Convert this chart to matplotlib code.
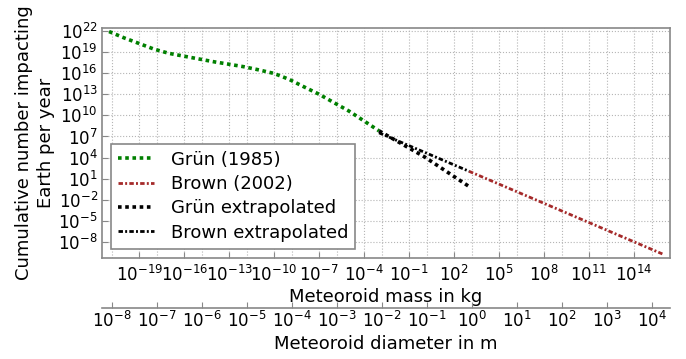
import numpy as np
import matplotlib
matplotlib.use('Agg')
import matplotlib.pyplot as plt
from matplotlib.ticker import FixedLocator, NullLocator, FuncFormatter

# data (mass in kg, cumulative number per year)
#=============================
grun_mass = [1e-21, 1e-20, 1e-19, 1e-18, 1e-17, 1e-16, 1e-15, 1e-14, 1e-13, 1e-12,
             1e-11, 1e-10, 1e-9, 1e-8, 1e-7, 1e-6, 1e-5, 1e-4, 1e-3]
grun_N = [7.9e21, 1.0e21, 1.6e20, 2.5e19, 6.3e18, 2.5e18, 1.0e18, 4.0e17, 1.8e17, 7.9e16,
          2.8e16, 8.9e15, 1.3e15, 1.1e14, 1.0e13, 6.3e11, 4.0e10, 1.6e9, 6.3e7]

grun_ext_mass = [1e-3, 1e0, 1e3]
grun_ext_N = [6.3e7, 1.4e4, 8.0e-1]

brown_mass = [1e3, 1e16]
brown_N = [1.15e2, 1.7e-10]

brown_ext_mass = [1e-3, 1e3]
brown_ext_N = [3.3e7, 1.15e2]

mass_ticks = [1e-19, 1e-16, 1e-13, 1e-10, 1e-7, 1e-4, 1e-1, 1e2, 1e5, 1e8, 1e11, 1e14]
diam_ticks = [1e-8, 1e-7, 1e-6, 1e-5, 1e-4, 1e-3, 1e-2, 1e-1, 1e0, 1e1, 1e2, 1e3, 1e4]
N_ticks = [1e-8, 1e-5, 1e-2, 1e1, 1e4, 1e7, 1e10, 1e13, 1e16, 1e19, 1e22]

rho = 3000.0  # kg/m^3, density used for diameter axis


def mass_to_diam(m):
    return (6.0 * np.asarray(m) / (np.pi * rho)) ** (1.0 / 3.0)


def pow_fmt(v, pos):
    return r'$10^{%d}$' % int(round(np.log10(v)))


spine_col = '#888888'
grid_col = '#b5b5b5'

fig = plt.figure(figsize=(6.86, 3.59), dpi=100)
ax = fig.add_axes([0.1487, 0.2813, 0.828, 0.6407])

dot = (0, (1, 1))
dashdot = (0, (1.6, 0.8, 0.7, 0.8))
ax.loglog(grun_mass, grun_N, color='green', ls=dot, lw=2.6, label='Grün (1985)')
ax.loglog(brown_mass, brown_N, color='#a52a2a', ls=dashdot, lw=2.0, label='Brown (2002)')
ax.loglog(grun_ext_mass, grun_ext_N, color='black', ls=dot, lw=2.6, label='Grün extrapolated')
ax.loglog(brown_ext_mass, brown_ext_N, color='black', ls=dashdot, lw=2.0, label='Brown extrapolated')

xlim = (10 ** -21.47, 10 ** 16.4)
ax.set_xlim(xlim)
ax.set_ylim(10 ** -10.25, 10 ** 22.4)

ax.xaxis.set_major_locator(FixedLocator(mass_ticks))
ax.xaxis.set_minor_locator(NullLocator())
ax.yaxis.set_major_locator(FixedLocator(N_ticks))
ax.yaxis.set_minor_locator(NullLocator())
ax.xaxis.set_major_formatter(FuncFormatter(pow_fmt))
ax.yaxis.set_major_formatter(FuncFormatter(pow_fmt))
ax.tick_params(direction='in', labelsize=12, length=4, color=spine_col, pad=3)
ax.tick_params(axis='x', pad=5)
ax.grid(True, color=grid_col, ls=':', lw=0.8)
for s in ax.spines.values():
    s.set_color(spine_col)
    s.set_linewidth(1.2)

ax.set_xlabel('Meteoroid mass in kg', fontsize=13, labelpad=2)
ax.set_ylabel('Cumulative number impacting\nEarth per year', fontsize=13, labelpad=2,
              linespacing=1.3)

# second x axis for diameter
#=============================
ax2 = ax.twiny()
ax2.set_xscale('log')
ax2.set_xlim(mass_to_diam(xlim))
ax2.xaxis.set_major_locator(FixedLocator(diam_ticks))
ax2.xaxis.set_minor_locator(NullLocator())
ax2.xaxis.set_major_formatter(FuncFormatter(pow_fmt))
ax2.xaxis.set_ticks_position('bottom')
ax2.xaxis.set_label_position('bottom')
ax2.spines['bottom'].set_position(('outward', 36))
ax2.spines['bottom'].set_color(spine_col)
ax2.spines['bottom'].set_linewidth(1.2)
for k in ['top', 'left', 'right']:
    ax2.spines[k].set_visible(False)
ax2.tick_params(direction='in', labelsize=12, length=4, color=spine_col, pad=2)
ax2.grid(True, axis='x', color=grid_col, ls=':', lw=0.8)
ax2.set_xlabel('Meteoroid diameter in m', fontsize=13, labelpad=3)

ax.set_zorder(ax2.get_zorder() + 1)
ax.patch.set_visible(False)

leg = ax.legend(loc='lower left', fontsize=13, fancybox=False, edgecolor=spine_col,
                framealpha=1, handlelength=2.0, labelspacing=0.35, borderaxespad=0.5,
                handletextpad=0.9)
leg.get_frame().set_linewidth(1.2)

fig.savefig('out.png', dpi=100)
